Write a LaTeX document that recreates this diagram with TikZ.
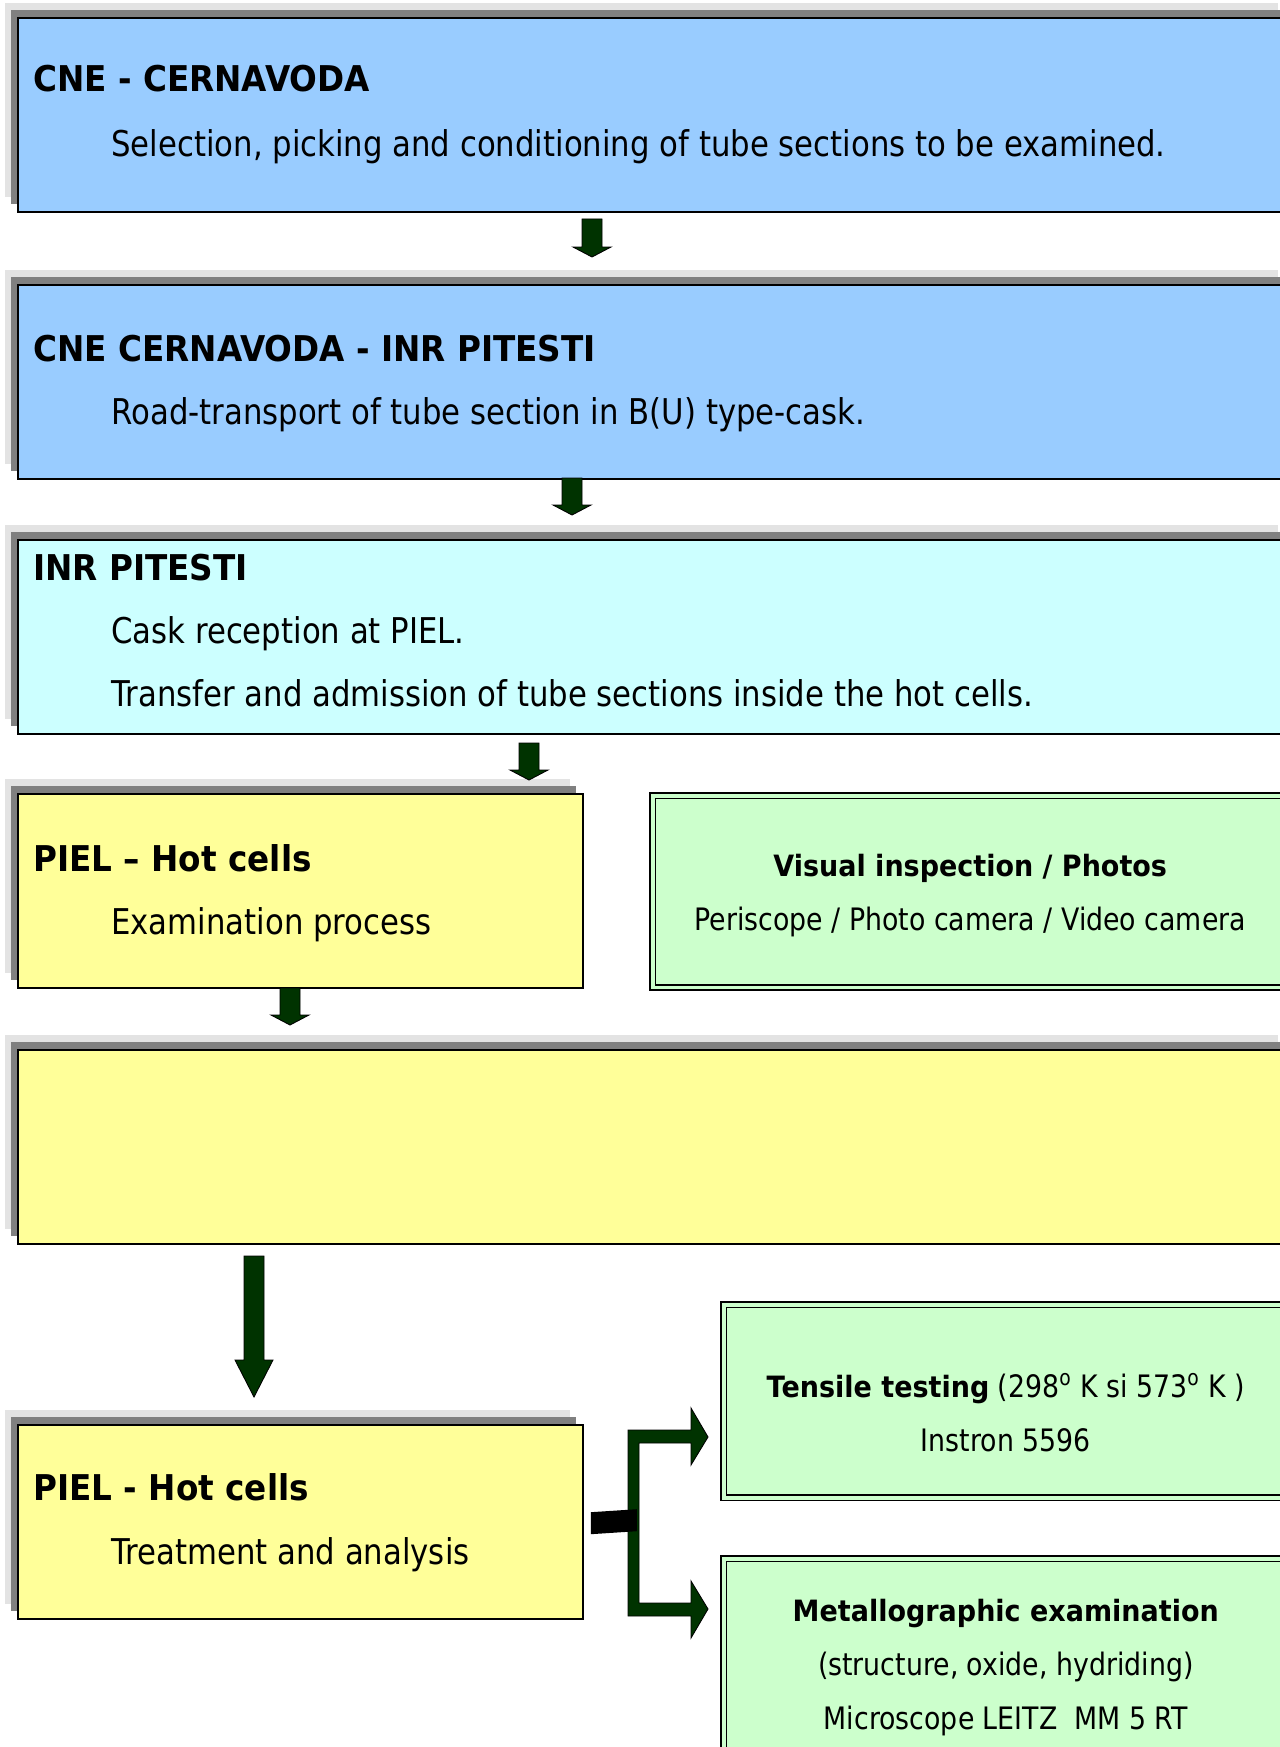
\documentclass[tikz,border=0pt]{standalone}
\usepackage{fontspec}
\setmainfont{DejaVu Sans}[FakeStretch=0.866, BoldFeatures={FakeStretch=0.92}]
\usetikzlibrary{calc,shadows}

\definecolor{cneblue}{HTML}{99CCFF}
\definecolor{inrcyan}{HTML}{CCFFFF}
\definecolor{cellyellow}{HTML}{FFFF99}
\definecolor{labgreen}{HTML}{CCFFCC}
\definecolor{arrowgreen}{HTML}{003300}
\definecolor{shdark}{HTML}{808080}
\definecolor{shlight}{HTML}{E3E3E3}

\tikzset{
  stage/.style={draw=black, line width=1.1pt, anchor=north west, inner sep=0pt,
    minimum height=3.89cm,
    general shadow={fill=shlight, shadow xshift=-0.26cm, shadow yshift=0.30cm},
    general shadow={fill=shdark, shadow xshift=-0.13cm, shadow yshift=0.16cm}},
  wide/.style={stage, minimum width=25.46cm},
  narrow/.style={stage, minimum width=11.3cm},
  lab/.style={draw=black, line width=0.9pt, double=labgreen, double distance=0.07cm,
    fill=labgreen, anchor=north west, inner sep=0pt, minimum width=11.28cm},
  stagetitle/.style={anchor=base west, inner sep=0pt, font=\fontsize{20.2}{24}\selectfont\bfseries},
  stagetext/.style={anchor=base west, inner sep=0pt, font=\fontsize{20.2}{24}\selectfont},
  labtitle/.style={anchor=base, inner sep=0pt, font=\fontsize{16.7}{21}\selectfont\bfseries},
  labtext/.style={anchor=base, inner sep=0pt, font=\fontsize{17.6}{21}\selectfont},
  blockarrow/.style={fill=arrowgreen, draw=black, line width=0.5pt, line join=miter}
}

% block arrow pointing down: top point, tip, head length
\newcommand\blockdown[3]{%
  \draw[blockarrow] ($(#1)+(-10,0)$) -- ($(#1)+(10,0)$) -- ($(#2)+(10,-#3)$)
    -- ($(#2)+(19,-#3)$) -- (#2) -- ($(#2)+(-19,-#3)$) -- ($(#2)+(-10,-#3)$) -- cycle;}

\begin{document}
\begin{tikzpicture}[x=0.02cm, y=-0.02cm]
\useasboundingbox (0,0) rectangle (1279,1747);

% stages
\node[wide, fill=cneblue] (cne) at (17,17) {};
\node[stagetitle] at ([shift={(16,75)}]cne.north west) {CNE - CERNAVODA};
\node[stagetext] at ([shift={(94,140)}]cne.north west) {Selection, picking and conditioning of tube sections to be examined.};

\node[wide, fill=cneblue] (road) at (17,284) {};
\node[stagetitle] at ([shift={(16,77)}]road.north west) {CNE CERNAVODA - INR PITESTI};
\node[stagetext] at ([shift={(94,140)}]road.north west) {Road-transport of tube section in B(U) type-cask.};

\node[wide, fill=inrcyan] (inr) at (17,539) {};
\node[stagetitle] at ([shift={(16,41)}]inr.north west) {INR PITESTI};
\node[stagetext] at ([shift={(94,104)}]inr.north west) {Cask reception at PIEL.};
\node[stagetext] at ([shift={(94,167)}]inr.north west) {Transfer and admission of tube sections inside the hot cells.};

\node[narrow, fill=cellyellow] (exam) at (17,793) {};
\node[stagetitle] at ([shift={(16,78)}]exam.north west) {PIEL – Hot cells};
\node[stagetext] at ([shift={(94,141)}]exam.north west) {Examination process};

\node[wide, fill=cellyellow] (blank) at (17,1049) {};

\node[narrow, fill=cellyellow] (treat) at (17,1424) {};
\node[stagetitle] at ([shift={(16,76)}]treat.north west) {PIEL - Hot cells};
\node[stagetext] at ([shift={(94,140)}]treat.north west) {Treatment and analysis};

% laboratories
\node[lab, minimum width=12.7cm, minimum height=3.83cm] (visual) at (652,795) {};
\node[labtitle] at ([yshift=-81*0.02cm]visual.north) {Visual inspection\ /\ Photos};
\node[labtext] at ([yshift=-135*0.02cm]visual.north) {Periscope / Photo camera / Video camera};

\node[lab, minimum height=3.86cm] (tensile) at (723,1304) {};
\node[labtext] at ([yshift=-93*0.02cm]tensile.north) {{\fontsize{16.7}{21}\selectfont\bfseries Tensile testing} (298\textsuperscript{o} K si 573\textsuperscript{o} K )};
\node[labtext] at ([yshift=-147*0.02cm]tensile.north) {Instron 5596};

\node[lab, minimum height=4.4cm] (metal) at (723,1558) {};
\node[labtitle] at ([yshift=-63*0.02cm]metal.north) {Metallographic examination};
\node[labtext] at ([yshift=-117*0.02cm]metal.north) {(structure, oxide, hydriding)};
\node[labtext] at ([yshift=-171*0.02cm]metal.north) {Microscope LEITZ\ \ MM 5 RT};

% arrows between stages
\coordinate (a1s) at (592,219);  \coordinate (a1e) at (592,257);
\coordinate (a2s) at (572,478);  \coordinate (a2e) at (572,515);
\coordinate (a3s) at (529,743);  \coordinate (a3e) at (529,780);
\coordinate (a4s) at (290,988);  \coordinate (a4e) at (290,1025);
\coordinate (a5s) at (254,1256); \coordinate (a5e) at (254,1397);
\blockdown{a1s}{a1e}{10}
\blockdown{a2s}{a2e}{10}
\blockdown{a3s}{a3e}{10}
\blockdown{a4s}{a4e}{10}
\blockdown{a5s}{a5e}{37}

% fork to the laboratories
\coordinate (tt) at (708,1437);
\coordinate (mt) at (708,1609);
\draw[blockarrow] ($(mt)+(-80,7)$) -- ($(tt)+(-80,-7)$) -- ($(tt)+(-17,-7)$) -- ($(tt)+(-17,-29)$)
  -- (tt) -- ($(tt)+(-17,28)$) -- ($(tt)+(-17,6)$) -- ($(tt)+(-69,6)$) -- ($(mt)+(-69,-6)$)
  -- ($(mt)+(-17,-6)$) -- ($(mt)+(-17,-28)$) -- (mt) -- ($(mt)+(-17,29)$) -- ($(mt)+(-17,7)$) -- cycle;
\fill ($(treat.east)+(7,-10)$) -- ($(treat.east)+(53,-13)$) -- ($(treat.east)+(53,9)$)
  -- ($(treat.east)+(7,12)$) -- cycle;
\end{tikzpicture}
\end{document}
